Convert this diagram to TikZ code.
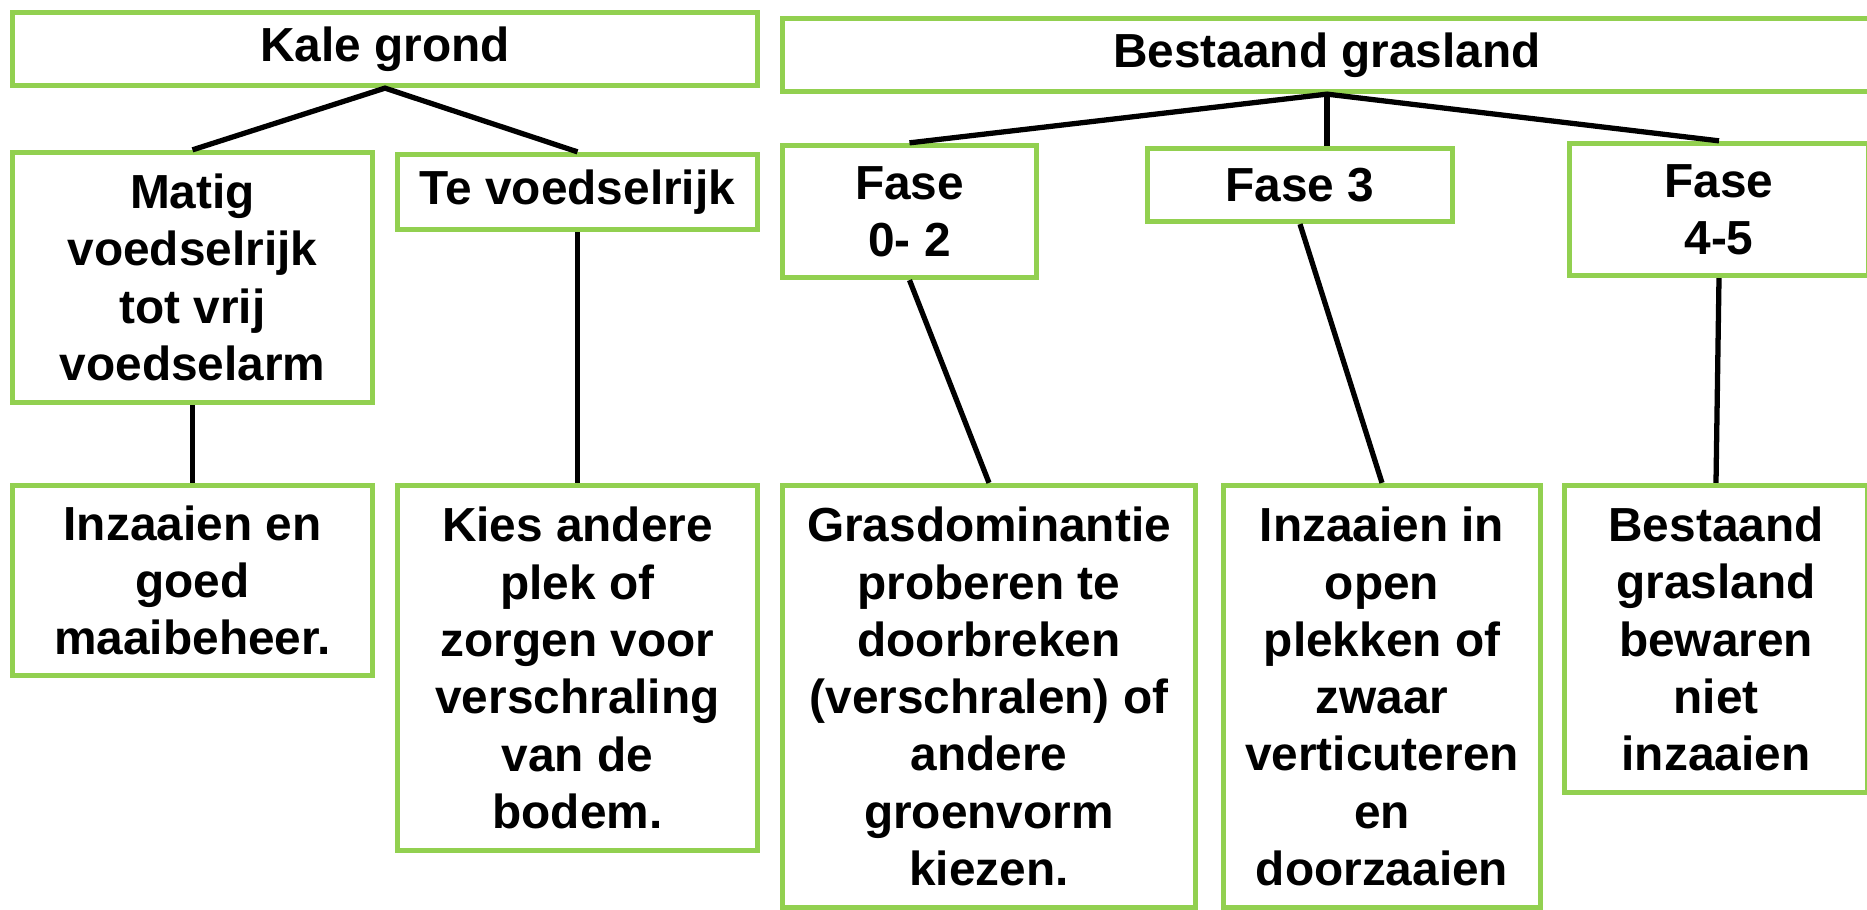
\documentclass[tikz,border=0pt]{standalone}
\usepackage{fontspec}
\setmainfont{Liberation Sans}
\definecolor{grasgroen}{RGB}{146,208,80}
\tikzset{
  vak/.style={draw=grasgroen, line width=1.5pt, fill=white, align=center, inner sep=2pt,
    font=\bfseries\fontsize{13.6}{16.3}\selectfont},
  tak/.style={line width=1.5pt}
}
\begin{document}
\begin{tikzpicture}
\useasboundingbox (0,0) rectangle (18.67,-9.10);
% bovenste rij
\node[vak, minimum width=7.45cm, minimum height=0.73cm] (kale) at (3.85,-0.49) {Kale grond};
\node[vak, minimum width=10.89cm, minimum height=0.73cm] (bestaand) at (13.27,-0.55) {Bestaand grasland};
% tweede rij
\node[vak, minimum width=3.60cm, minimum height=2.50cm] (matig) at (1.925,-2.775) {Matig\\voedselrijk\\tot vrij\\voedselarm};
\node[vak, minimum width=3.60cm, minimum height=0.75cm] (teveel) at (5.775,-1.92) {Te voedselrijk};
\node[vak, minimum width=2.54cm, minimum height=1.32cm] (fase02) at (9.095,-2.115) {Fase\\0- 2};
\node[vak, minimum width=3.05cm, minimum height=0.73cm] (fase3) at (13.00,-1.85) {Fase 3};
\node[vak, minimum width=2.99cm, minimum height=1.32cm] (fase45) at (17.19,-2.095) {Fase\\4-5};
% onderste rij
\node[vak, minimum width=3.60cm, minimum height=1.90cm] (inzaai) at (1.925,-5.805) {Inzaaien en\\goed\\maaibeheer.};
\node[vak, minimum width=3.60cm, minimum height=3.65cm] (kies) at (5.775,-6.68) {Kies andere\\plek of\\zorgen voor\\verschraling\\van de\\bodem.};
\node[vak, minimum width=4.13cm, minimum height=4.22cm] (grasdom) at (9.89,-6.965) {Grasdominantie\\proberen te\\doorbreken\\(verschralen) of\\andere\\groenvorm\\kiezen.};
\node[vak, minimum width=3.17cm, minimum height=4.22cm] (inzaaiin) at (13.82,-6.965) {Inzaaien in\\open\\plekken of\\zwaar\\verticuteren\\en\\doorzaaien};
\node[vak, minimum width=3.03cm, minimum height=3.07cm] (bewaren) at (17.16,-6.39) {Bestaand\\grasland\\bewaren\\niet\\inzaaien};
% verbindingen
\draw[tak] (matig.north) -- (kale.south) -- (teveel.north);
\draw[tak] (matig.south) -- (inzaai.north);
\draw[tak] (teveel.south) -- (kies.north);
\draw[tak] (fase02.north) -- (bestaand.south) -- (fase45.north);
\draw[tak] (bestaand.south) -- (bestaand.south |- fase3.north);
\draw[tak] (fase02.south) -- (grasdom.north);
\draw[tak] (fase3.south) -- (inzaaiin.north);
\draw[tak] (fase45.south) -- (bewaren.north);
\end{tikzpicture}
\end{document}
